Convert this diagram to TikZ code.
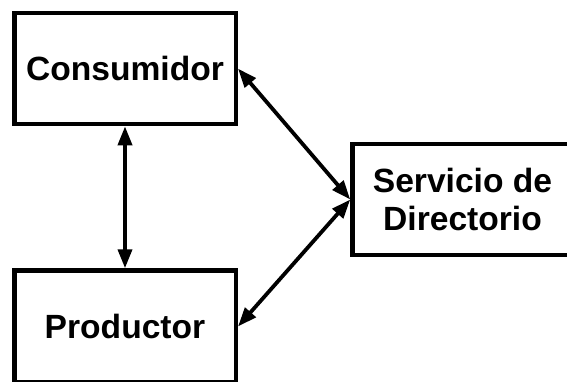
\documentclass[tikz,border=0pt]{standalone}
\usepackage{fontspec}
\setmainfont{Liberation Sans}
\usetikzlibrary{arrows.meta,positioning}
\tikzset{
  caja/.style={draw, line width=4.5pt, minimum width=221.5pt, minimum height=111pt, inner sep=0pt,
    align=center, font=\bfseries\fontsize{33.6}{38}\selectfont},
  flecha/.style={{Triangle[length=19pt,width=14pt]}-{Triangle[length=19pt,width=14pt]}, line width=3.8pt}
}
\begin{document}
\begin{tikzpicture}[x=1pt,y=1pt]
\useasboundingbox (0,0) rectangle (567,381);
\clip (0,0) rectangle (567,381);
\node [caja] (cons) at (125,312.4) {Consumidor};
\node [caja, minimum height=112pt] (prod) at (125,54.5) {Productor};
\node [caja, minimum width=220pt] (serv) at (462.5,181.5) {Servicio de\\Directorio};
\draw [flecha] (cons.south) -- (prod.north);
\draw [flecha] (cons.east) -- (serv.west);
\draw [flecha] (prod.east) -- (serv.west);
\end{tikzpicture}
\end{document}
